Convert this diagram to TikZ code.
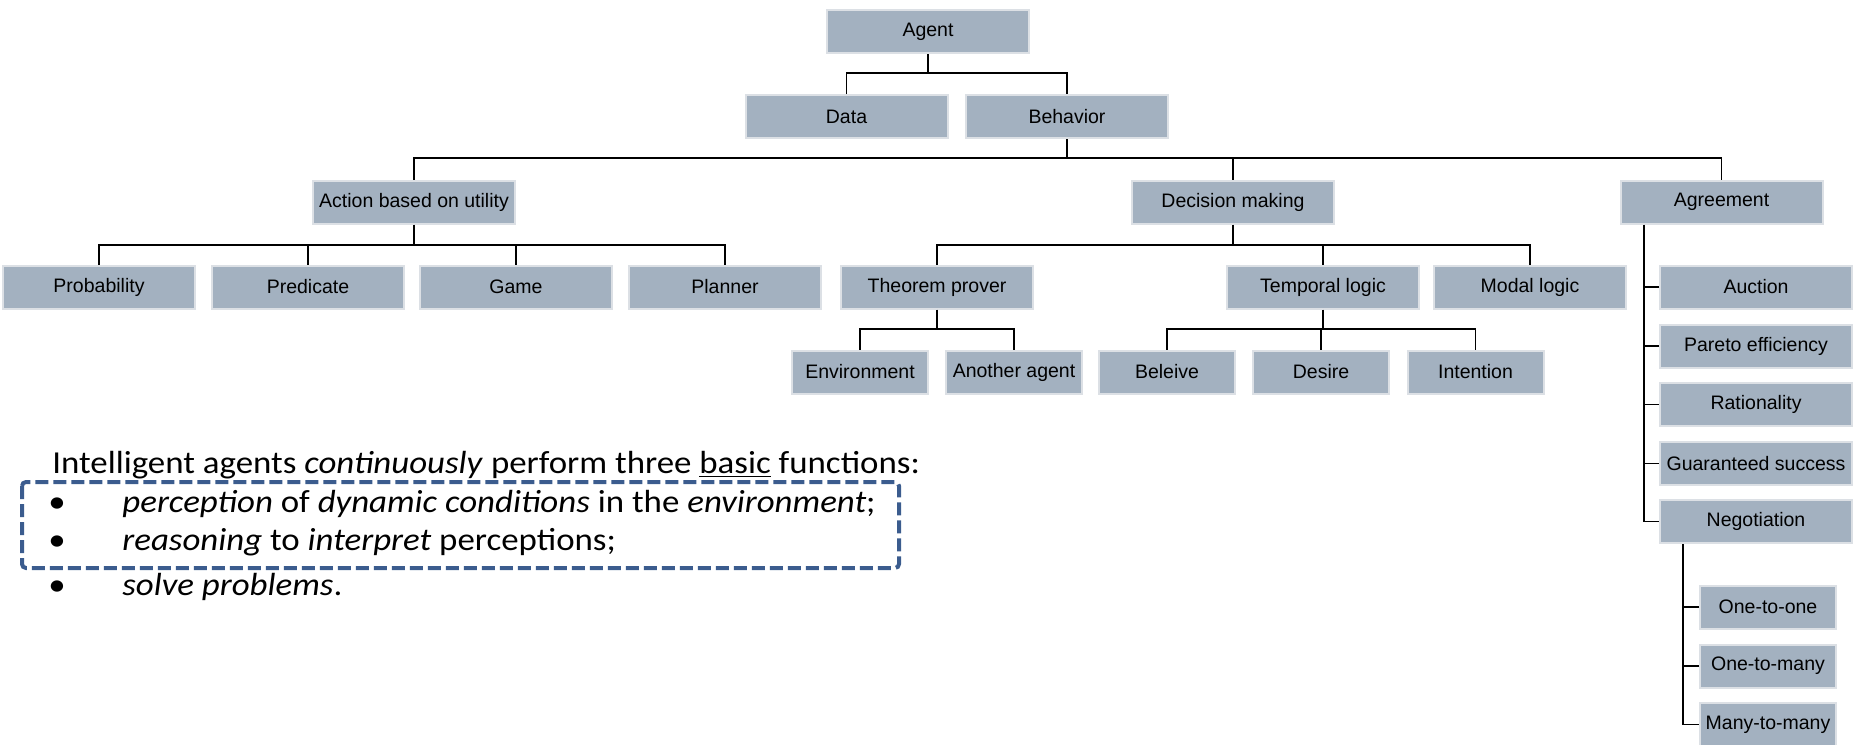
\documentclass[tikz,border=0pt]{standalone}
\usepackage{fontspec}
\setmainfont{Carlito}[FakeStretch=1.09]
\newfontfamily\boxfont{Liberation Sans}
\usetikzlibrary{positioning, calc}
\definecolor{slate}{HTML}{A3B1C0}
\definecolor{slateedge}{HTML}{DCE0E5}
\definecolor{navy}{HTML}{3B5C8E}

\begin{document}
\begin{tikzpicture}[x=0.5pt, y=-0.5pt,
    box/.style={fill=slate, draw=slateedge, line width=1pt, inner sep=0pt,
      minimum height=21.5pt, font=\boxfont\fontsize{9.75}{11}\selectfont},
    wbox/.style={box, minimum width=101pt},
    mbox/.style={box, minimum width=96pt},
    nbox/.style={box, minimum width=68pt},
    link/.style={draw=black, line width=0.8pt},
    txt/.style={anchor=base west, inner sep=0pt, font=\fontsize{16}{19}\selectfont}]
  \useasboundingbox (0,0) rectangle (1861,744);

  % top of the tree
  \node[wbox] (agent) at (928,31.5) {Agent};
  \node[wbox] (data) at (846.5,116.5) {Data};
  \node[wbox] (behavior) at (1067,116.5) {Behavior};
  \node[wbox] (action) at (414,202) {Action based on utility};
  \node[wbox] (decision) at (1233,202) {Decision making};
  \node[wbox] (agreement) at (1721.5,202) {Agreement};

  % third level
  \node[mbox] (probability) at (99,287) {Probability};
  \node[mbox] (predicate) at (308,287) {Predicate};
  \node[mbox] (game) at (516,287) {Game};
  \node[mbox] (planner) at (725,287) {Planner};
  \node[mbox] (theorem) at (937,287) {Theorem prover};
  \node[mbox] (temporal) at (1323,287) {Temporal logic};
  \node[mbox] (modal) at (1530,287) {Modal logic};

  \node[nbox] (environment) at (860,372) {Environment};
  \node[nbox] (another) at (1014,372) {Another agent};
  \node[nbox] (beleive) at (1167,372) {Beleive};
  \node[nbox] (desire) at (1321,372) {Desire};
  \node[nbox] (intention) at (1475.5,372) {Intention};

  % agreement column
  \node[mbox] (auction) at (1756,287) {Auction};
  \node[mbox] (pareto) at (1756,346) {Pareto efficiency};
  \node[mbox] (rationality) at (1756,404.5) {Rationality};
  \node[mbox] (guaranteed) at (1756,463.5) {Guaranteed success};
  \node[mbox] (negotiation) at (1756,521.5) {Negotiation};
  \node[nbox] (onetoone) at (1768,607) {One-to-one};
  \node[nbox] (onetomany) at (1768,666) {One-to-many};
  \node[nbox] (manytomany) at (1768,724.5) {Many-to-many};

  % connectors
  \coordinate (j1) at (928,73);
  \draw[link] (agent.south) -- (j1);
  \draw[link] (data.north) |- (j1) -| (behavior.north);
  \coordinate (j2) at (1067,158);
  \draw[link] (behavior.south) -- (j2);
  \draw[link] (action.north) |- (j2) -| (agreement.north);
  \draw[link] (decision.north) -- (decision.north |- j2);

  \coordinate (j3) at (414,245);
  \draw[link] (action.south) -- (j3);
  \draw[link] (probability.north) |- (j3) -| (planner.north);
  \foreach \n in {predicate, game}
    \draw[link] (\n.north) -- (\n.north |- j3);
  \coordinate (j4) at (1233,245);
  \draw[link] (decision.south) -- (j4);
  \draw[link] (theorem.north) |- (j4) -| (modal.north);
  \draw[link] (temporal.north) -- (temporal.north |- j4);

  \coordinate (j5) at (937,329);
  \draw[link] (theorem.south) -- (j5);
  \draw[link] (environment.north) |- (j5) -| (another.north);
  \coordinate (j6) at (1323,329);
  \draw[link] (temporal.south) -- (j6);
  \draw[link] (beleive.north) |- (j6) -| (intention.north);
  \draw[link] (desire.north) -- (desire.north |- j6);

  \coordinate (j7) at (agreement.south -| 1644,0);
  \draw[link] (j7) |- (negotiation.west);
  \foreach \n in {auction, pareto, rationality, guaranteed}
    \draw[link] (\n.west) -- (\n.west -| j7);
  \coordinate (j8) at (negotiation.south -| 1683,0);
  \draw[link] (j8) |- (manytomany.west);
  \foreach \n in {onetoone, onetomany}
    \draw[link] (\n.west) -- (\n.west -| j8);

  % text below
  \node[txt] (intro) at (52,473) {Intelligent agents \textit{continuously} perform three \underline{basic} functions:};
  \node[txt, anchor=base] (bulA) at (57,512) {\textbullet};
  \node[txt, anchor=base] (bulB) at (57,550) {\textbullet};
  \node[txt, anchor=base] (bulC) at (57,595) {\textbullet};
  \node[txt] (itemA) at (122,512) {\textit{perception} of \textit{dynamic conditions} in the \textit{environment};};
  \node[txt] (itemB) at (122,550) {\textit{reasoning} to \textit{interpret} perceptions;};
  \node[txt] (itemC) at (122,595) {\textit{solve problems}.};
  \draw[navy, line width=2pt, dash pattern=on 6.5pt off 2.5pt, rounded corners=2pt]
    (22,482) rectangle (899,568);
\end{tikzpicture}
\end{document}
